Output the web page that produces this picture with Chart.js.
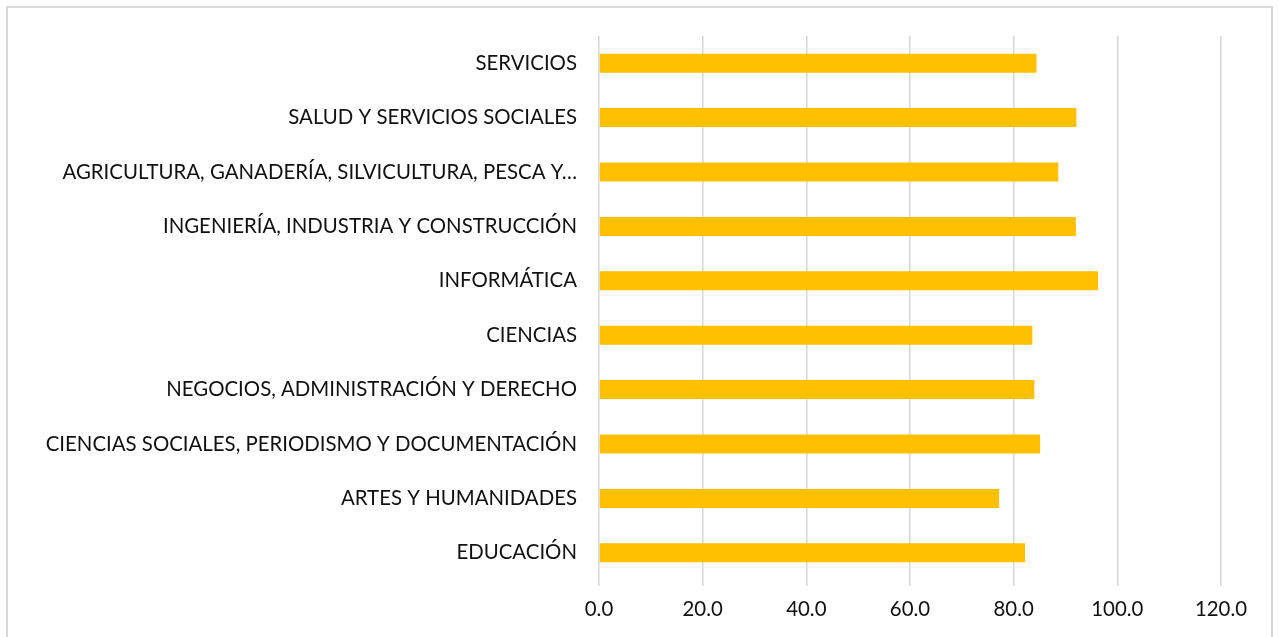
<!DOCTYPE html>
<html>
<head>
<meta charset="utf-8">
<script src="https://cdn.jsdelivr.net/npm/chart.js@4/dist/chart.umd.min.js"></script>
<style>
  html, body { margin: 0; padding: 0; background: #fff; }
  #frame { position: absolute; left: 6px; top: 6px; width: 1267px; height: 640px; border: 2px solid #d9d9d9; box-sizing: border-box; }
  #wrap { position: absolute; left: 0; top: 0; width: 1281px; height: 637px; }
</style>
</head>
<body>
<div id="frame"></div>
<div id="wrap"><canvas id="c" width="1281" height="637"></canvas></div>
<script>
const categories = [
  "SERVICIOS",
  "SALUD Y SERVICIOS SOCIALES",
  "AGRICULTURA, GANADERÍA, SILVICULTURA, PESCA Y…",
  "INGENIERÍA, INDUSTRIA Y CONSTRUCCIÓN",
  "INFORMÁTICA",
  "CIENCIAS",
  "NEGOCIOS, ADMINISTRACIÓN Y DERECHO",
  "CIENCIAS SOCIALES, PERIODISMO Y DOCUMENTACIÓN",
  "ARTES Y HUMANIDADES",
  "EDUCACIÓN"
];
const values = [84.4, 92.1, 88.6, 92.0, 96.3, 83.6, 84.0, 85.1, 77.2, 82.2];
const xTicks = [0, 20, 40, 60, 80, 100, 120];

const FONT = "Lato";
const ctx = document.getElementById('c');
new Chart(ctx, {
  type: 'bar',
  data: {
    labels: categories,
    datasets: [{
      data: values,
      backgroundColor: '#ffc000',
      borderWidth: 0,
      barPercentage: 0.35,
      categoryPercentage: 1.0
    }]
  },
  options: {
    indexAxis: 'y',
    responsive: false,
    animation: false,
    layout: { padding: { left: 0, right: 60, top: 36, bottom: 0 } },
    plugins: { legend: { display: false }, tooltip: { enabled: false } },
    scales: {
      x: {
        min: 0, max: 120,
        afterBuildTicks: (s) => { s.ticks = xTicks.map(v => ({ value: v })); },
        afterFit: (s) => { s.height = 57; },
        grid: { color: '#d9d9d9', lineWidth: 1.6, drawTicks: true, tickLength: 6 },
        border: { display: false },
        ticks: {
          color: '#111111',
          font: { family: FONT, size: 20.4 },
          padding: 11,
          maxRotation: 0,
          callback: (v) => Number(v).toFixed(1)
        }
      },
      y: {
        afterFit: (s) => { s.width = 599; },
        grid: { display: false, drawTicks: false },
        border: { display: false },
        ticks: {
          color: '#111111',
          font: { family: FONT, size: 20.4 },
          padding: 22,
          autoSkip: false
        }
      }
    }
  }
});
</script>
</body>
</html>
